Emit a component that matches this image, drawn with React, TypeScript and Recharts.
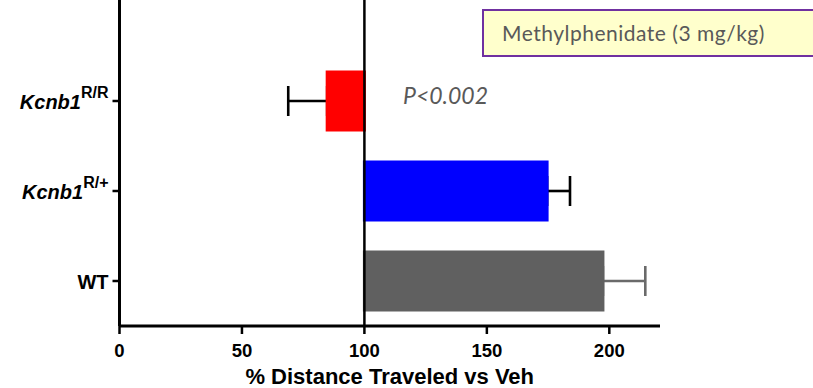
import React from 'react';
import { BarChart, Bar, XAxis, YAxis, ReferenceLine, ErrorBar, Cell } from 'recharts';

// ---- data ----
const categories = ['Kcnb1 R/R', 'Kcnb1 R/+', 'WT'];
const genotypeNames = ['Kcnb1', 'Kcnb1', 'WT'];
const genotypeSups = ['R/R', 'R/+', ''];
const baseline = 100;
const meanValues = [84.8, 174.6, 197.4];
const errLow = [15.9, 0, 0];
const errHigh = [0, 9.35, 17.3];
const barColors = ['#ff0000', '#0000ff', '#606060'];
const errGrayFlags = [false, false, true];
const xTicks = [0, 50, 100, 150, 200];
const xDomain: [number, number] = [0, 220.7];
const xLabel = '% Distance Traveled vs Veh';
const pText = 'P<0.002';
const boxText = 'Methylphenidate (3 mg/kg)';

const data = categories.map((cat, i) => ({
  cat,
  range: [baseline, meanValues[i]],
  errBlack: errGrayFlags[i] ? null : [errLow[i], errHigh[i]],
  errGray: errGrayFlags[i] ? [errLow[i], errHigh[i]] : null,
}));

const W = 813;
const H = 388;
const margin = { top: 0, right: 153, bottom: 0, left: 9.5 };
const ARIAL = '"Liberation Sans", Arial, Helvetica, sans-serif';

const YTick = (props: any) => {
  const { x, y, payload } = props;
  const i = categories.indexOf(payload.value);
  const name = genotypeNames[i];
  const sup = genotypeSups[i];
  if (!sup) {
    return (
      <text x={x} y={y} dy={7.5} textAnchor="end" fontFamily={ARIAL} fontWeight="bold" fontSize={20} fill="#000">
        {name}
      </text>
    );
  }
  return (
    <text x={x} y={y} textAnchor="end" fontFamily={ARIAL} fontWeight="bold" fill="#000">
      <tspan fontStyle="italic" fontSize={20} dy={8}>{name}</tspan>
      <tspan fontSize={16} dy={-11}>{sup}</tspan>
    </text>
  );
};

const xAxisBase = {
  type: 'number' as const,
  domain: xDomain,
  ticks: xTicks,
  height: 62,
  allowDataOverflow: true,
};
const yAxisBase = {
  type: 'category' as const,
  dataKey: 'cat',
  width: 110,
  padding: { top: 56, bottom: 0 },
  interval: 0,
};

export default function App() {
  return (
    <div style={{ position: 'absolute', left: 0, top: 0, width: W, height: H, overflow: 'hidden', background: '#fff' }}>
      {/* error bars layer (under the bars) */}
      <div style={{ position: 'absolute', left: 0, top: 0 }}>
        <BarChart width={W} height={H} data={data} layout="vertical" margin={margin} barSize={58}>
          <XAxis {...xAxisBase} axisLine={false} tickLine={false} tick={false} />
          <YAxis {...yAxisBase} axisLine={false} tickLine={false} tick={false} />
          <Bar dataKey="range" fill="none" stroke="none" isAnimationActive={false}>
            <ErrorBar dataKey="errBlack" direction="x" width={15} stroke="#000" strokeWidth={2.6} isAnimationActive={false} />
            <ErrorBar dataKey="errGray" direction="x" width={15} stroke="#6a6a6a" strokeWidth={2.6} isAnimationActive={false} />
          </Bar>
        </BarChart>
      </div>
      {/* main chart layer */}
      <div style={{ position: 'absolute', left: 0, top: 0 }}>
        <BarChart width={W} height={H} data={data} layout="vertical" margin={margin} barSize={58}>
          <XAxis
            {...xAxisBase}
            axisLine={{ stroke: '#000', strokeWidth: 3 }}
            tickLine={{ stroke: '#000', strokeWidth: 2.5 }}
            tickSize={8}
            tickMargin={9.5}
            tick={{ fill: '#000', fontSize: 18.5, fontWeight: 'bold', fontFamily: ARIAL }}
            label={{
              value: xLabel,
              position: 'insideBottom',
              offset: 4,
              fill: '#000',
              fontSize: 22,
              fontWeight: 'bold',
              fontFamily: ARIAL,
            }}
          />
          <YAxis
            {...yAxisBase}
            axisLine={{ stroke: '#000', strokeWidth: 3 }}
            tickLine={{ stroke: '#000', strokeWidth: 2.5 }}
            tickSize={7}
            tickMargin={4}
            tick={<YTick />}
          />
          <Bar dataKey="range" isAnimationActive={false} strokeWidth={3}>
            {data.map((d, i) => (
              <Cell key={d.cat} fill={barColors[i]} stroke={barColors[i]} />
            ))}
          </Bar>
          <ReferenceLine x={baseline} stroke="#000" strokeWidth={2.5} />
        </BarChart>
      </div>
      <div
        style={{
          position: 'absolute',
          left: 403,
          top: 84,
          fontFamily: 'Lato, "Open Sans", sans-serif',
          fontStyle: 'italic',
          fontSize: 23,
          lineHeight: '23px',
          color: '#595959',
          whiteSpace: 'nowrap',
        }}
      >
        {pText}
      </div>
      <div
        style={{
          position: 'absolute',
          left: 482,
          top: 8.5,
          width: 400,
          height: 48.5,
          boxSizing: 'border-box',
          border: '2px solid #7030a0',
          background: '#ffffcc',
        }}
      >
        <div
          style={{
            position: 'absolute',
            left: 18,
            top: 11.5,
            fontFamily: 'Lato, "Open Sans", sans-serif',
            fontSize: 21,
            letterSpacing: '0.5px',
            lineHeight: '21px',
            color: '#595959',
            whiteSpace: 'nowrap',
          }}
        >
          {boxText}
        </div>
      </div>
    </div>
  );
}
